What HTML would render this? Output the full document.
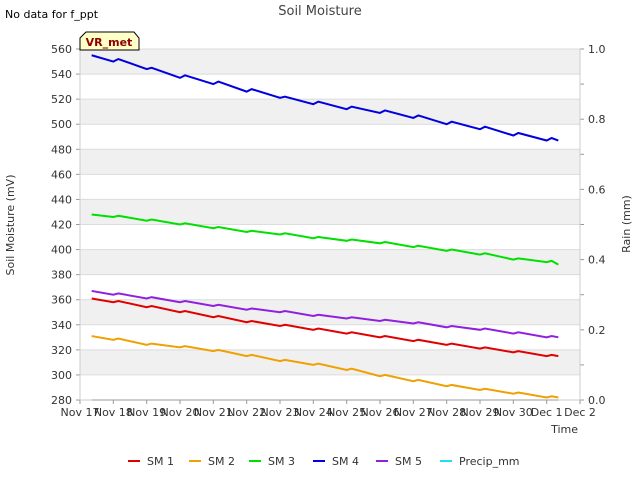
<!DOCTYPE html>
<html><head><meta charset="utf-8"><style>
body{margin:0;background:#fff;font-family:"Liberation Sans","DejaVu Sans",sans-serif;}
svg text{font-family:"DejaVu Sans","Liberation Sans",sans-serif;}
</style></head><body>
<svg id="chart" width="640" height="480" viewBox="0 0 640 480">
<text x="5" y="18" font-size="11" fill="#000">No data for f_ppt</text>
<text x="320" y="15" font-size="13" fill="#444" text-anchor="middle">Soil Moisture</text>
<g id="bands"></g><g id="grid"></g><g id="axes"></g><g id="series"></g>
<path d="M80,50 L80,38 L86,32 L134,32 L139,38 L139,50 Z" fill="#ffffc8" stroke="#000" stroke-width="1"/>
<text x="109" y="46" font-size="11" font-weight="bold" fill="#8b0000" text-anchor="middle">VR_met</text>
<text x="14" y="225" font-size="11" fill="#333" text-anchor="middle" transform="rotate(-90 14 225)">Soil Moisture (mV)</text>
<text x="630" y="224" font-size="11" fill="#333" text-anchor="middle" transform="rotate(-90 630 224)">Rain (mm)</text>
<text x="578" y="433" font-size="11" fill="#333" text-anchor="end">Time</text>
<g id="legend"></g>
</svg>
<script>
const times=[0.35,1,1.15,2,2.15,3,3.15,4,4.15,5,5.15,6,6.15,7,7.15,8,8.15,9,9.15,10,10.15,11,11.15,12,12.15,13,13.15,14,14.15,14.35];
const sm1=[361,358,359,354,355,350,351,346,347,342,343,339,340,336,337,333,334,330,331,327,328,324,325,321,322,318,319,315,316,315];
const sm2=[331,328,329,324,325,322,323,319,320,315,316,311,312,308,309,304,305,299,300,295,296,291,292,288,289,285,286,282,283,282];
const sm3=[428,426,427,423,424,420,421,417,418,414,415,412,413,409,410,407,408,405,406,402,403,399,400,396,397,392,393,390,391,388];
const sm4=[555,550,552,544,545,537,539,532,534,526,528,521,522,516,518,512,514,509,511,505,507,500,502,496,498,491,493,487,489,487];
const sm5=[367,364,365,361,362,358,359,355,356,352,353,350,351,347,348,345,346,343,344,341,342,338,339,336,337,333,334,330,331,330];
const precipTimes=[0.35,14.35];
const precip=[0,0];
const xTicks=["Nov 17","Nov 18","Nov 19","Nov 20","Nov 21","Nov 22","Nov 23","Nov 24","Nov 25","Nov 26","Nov 27","Nov 28","Nov 29","Nov 30","Dec 1","Dec 2"];
const yTicks=[280,300,320,340,360,380,400,420,440,460,480,500,520,540,560];
const rTicks=[0,0.2,0.4,0.6,0.8,1.0];
const names=["SM 1","SM 2","SM 3","SM 4","SM 5","Precip_mm"];
const colors=["#e00000","#f0a000","#00e000","#0000e0","#9020e0","#20e0f0"];

const NS="http://www.w3.org/2000/svg";
const X0=80,X1=580,Y0=400,Y1=49;
const xs=t=>X0+(X1-X0)*t/15;
const ys=v=>Y0-(Y0-Y1)*(v-280)/280;
const yr=v=>Y0-(Y0-Y1)*v/1.0;
function mk(tag,attrs,parent){const e=document.createElementNS(NS,tag);for(const k in attrs)e.setAttribute(k,attrs[k]);parent.appendChild(e);return e;}
const bands=document.getElementById('bands'),grid=document.getElementById('grid'),axes=document.getElementById('axes'),ser=document.getElementById('series'),leg=document.getElementById('legend');
mk('rect',{x:X0,y:Y1,width:X1-X0,height:Y0-Y1,fill:'#fff'},bands);
for(let i=0;i<yTicks.length-1;i++){
  if((yTicks.length-2-i)%2===0){
    const r=mk('rect',{x:X0,y:ys(yTicks[i+1]),width:X1-X0,height:ys(yTicks[i])-ys(yTicks[i+1]),fill:'#f0f0f0'},bands);
    
    
  }
}
yTicks.forEach(v=>{
  const g=mk('line',{x1:X0,x2:X1,y1:ys(v),y2:ys(v),stroke:'#dcdcdc','stroke-width':1},grid);
  
  
  mk('line',{x1:X0-4,x2:X0,y1:ys(v),y2:ys(v),stroke:'#999'},axes);
  const t=mk('text',{x:X0-8,y:ys(v)+4,'font-size':11,fill:'#333','text-anchor':'end'},axes);
  t.textContent=v;
  
  
});
for(let v=0;v<=1.0001;v+=0.1){mk('line',{x1:X1,x2:X1+4,y1:yr(v),y2:yr(v),stroke:'#999'},axes);}
rTicks.forEach(v=>{
  const t=mk('text',{x:X1+8,y:yr(v)+4,'font-size':11,fill:'#333'},axes);
  t.textContent=v.toFixed(1);
  
  
});
xTicks.forEach((s,i)=>{
  mk('line',{x1:xs(i),x2:xs(i),y1:Y0,y2:Y0+4,stroke:'#999'},axes);
  const t=mk('text',{x:xs(i),y:Y0+16,'font-size':11,fill:'#333','text-anchor':'middle'},axes);
  t.textContent=s;
  
  
});
mk('line',{x1:X0,x2:X0,y1:Y1,y2:Y0,stroke:'#ccc'},axes);
mk('line',{x1:X1,x2:X1,y1:Y1,y2:Y0,stroke:'#ccc'},axes);
mk('line',{x1:X0,x2:X1,y1:Y0,y2:Y0,stroke:'#ccc'},axes);
const series=[sm1,sm2,sm3,sm4,sm5];
series.forEach((d,i)=>{
  const p=mk('polyline',{points:d.map((v,j)=>xs(times[j])+','+ys(v)).join(' '),fill:'none',stroke:colors[i],'stroke-width':2},ser);
  
  
});
const pp=mk('polyline',{points:precip.map((v,j)=>xs(precipTimes[j])+','+yr(v)).join(' '),fill:'none',stroke:'#999','stroke-width':1},ser);


const lx=[128,189,249,313,376,440];
names.forEach((n,i)=>{
  const g=mk('g',{},leg);
  
  
  mk('line',{x1:lx[i],x2:lx[i]+12,y1:461,y2:461,stroke:colors[i],'stroke-width':2},g);
  const t=mk('text',{x:lx[i]+19,y:465,'font-size':11,fill:'#333'},g);
  t.textContent=n;
});
</script>
</body></html>
